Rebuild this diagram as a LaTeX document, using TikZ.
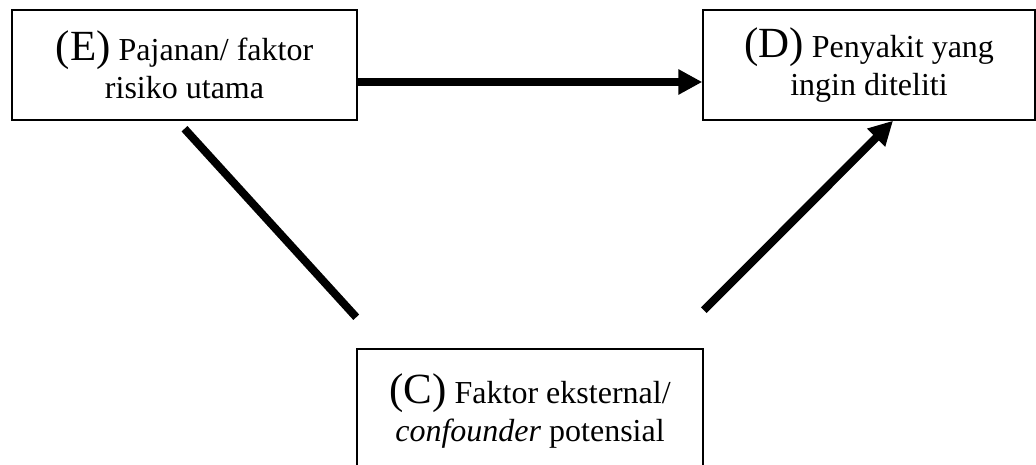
\documentclass[tikz,border=0pt]{standalone}
\usepackage{fontspec}
\setmainfont{Liberation Serif}
\usepackage{tikz}
\usetikzlibrary{arrows.meta,positioning,calc}
\renewcommand{\large}{\fontsize{32}{38}\selectfont}
\renewcommand{\LARGE}{\fontsize{43}{38}\selectfont}
\tikzset{
  factor/.style={draw, line width=1.5pt, align=center, font=\large,
    minimum height=110pt, inner sep=0pt},
  link/.style={line width=8pt},
  causal/.style={line width=8pt, -{Triangle[length=24pt,width=24pt]}}
}

\begin{document}
\begin{tikzpicture}[x=1pt, y=1pt]
  \useasboundingbox (0,0) rectangle (1036,464);
  \node[factor, minimum width=345pt] (E) at (184.5,399)
    {{\LARGE(E)} Pajanan/ faktor\\risiko utama};
  \node[factor, minimum width=332pt] (D) at (869,399)
    {{\LARGE(D)} Penyakit yang\\ingin diteliti};
  \node[factor, minimum width=346pt, minimum height=124pt] (C) at (530,53)
    {{\LARGE(C)} Faktor eksternal/\\\textit{confounder} potensial};
  \draw[causal] ($(E.east)+(0,-17)$) -- ($(D.west)+(0,-17)$);
  \draw[link] ($(E.south)+(0,-8)$) -- ($(C.north west)+(0,31)$);
  \draw[causal] ($(C.north east)+(0,38)$) -- ($(D.south)+(24,0)$);
\end{tikzpicture}
\end{document}
